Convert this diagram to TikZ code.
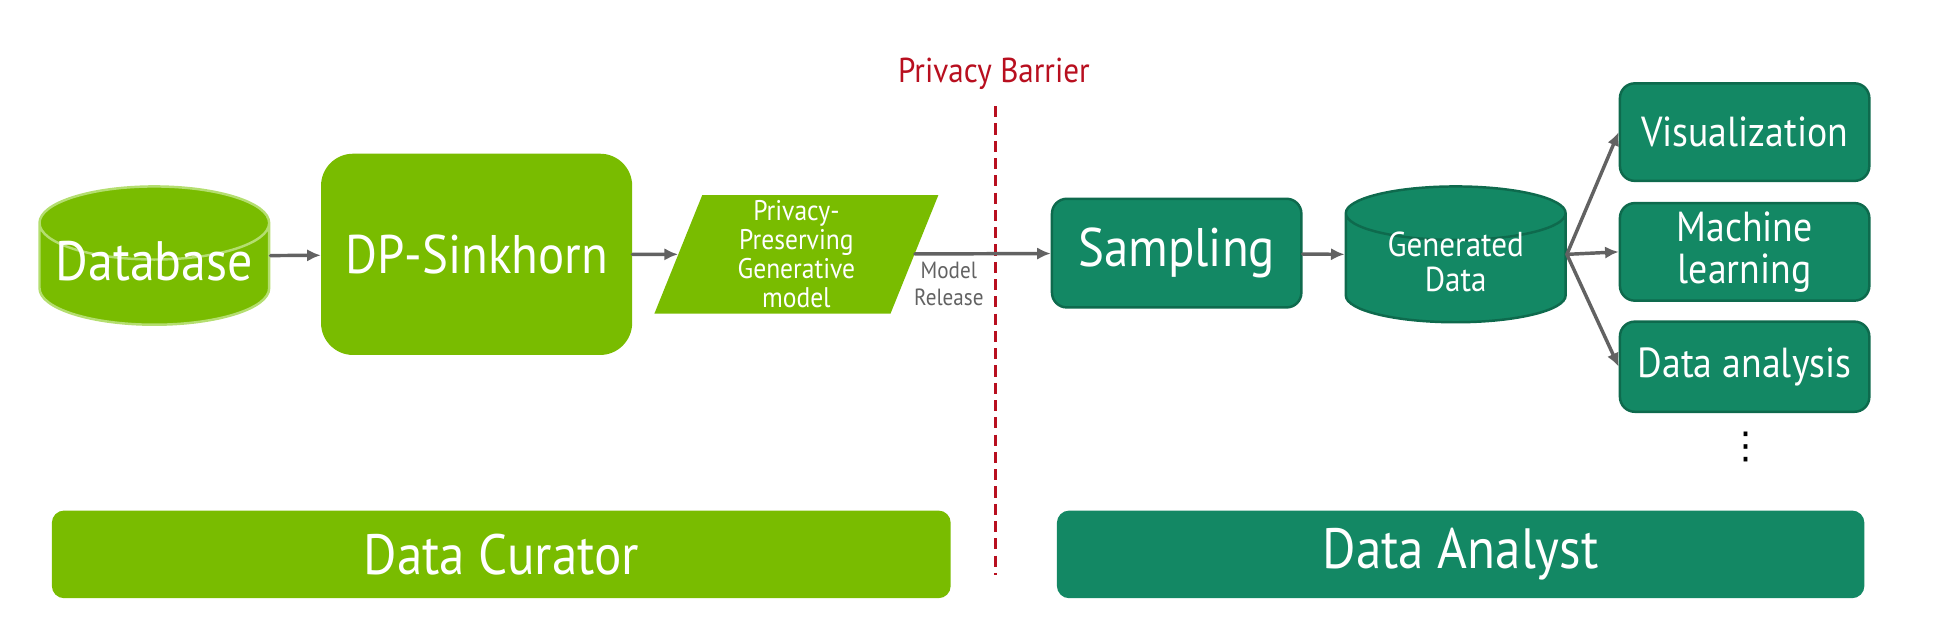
\documentclass[tikz,border=0pt]{standalone}
\usepackage{fontspec}
\setmainfont{PT Sans}[FakeStretch=0.9]
\newfontfamily\dotsfont{DejaVu Sans}
\usetikzlibrary{shapes.geometric,arrows.meta}
\definecolor{nvgreen}{HTML}{79BC00}
\definecolor{nvpale}{HTML}{B4DE70}
\definecolor{nvteal}{HTML}{138864}
\definecolor{tealdark}{HTML}{0E6A4D}
\definecolor{barrierred}{HTML}{B80F1F}
\definecolor{arrowgray}{HTML}{626262}

\begin{document}
\begin{tikzpicture}[x=1pt,y=-1pt,line cap=round,
    curator/.style={fill=nvgreen, text=white, inner sep=0pt},
    analyst/.style={fill=nvteal, draw=tealdark, line width=2pt, text=white, inner sep=0pt, rounded corners=12pt},
    conn/.style={draw=arrowgray, line width=2.8pt, -{Latex[length=11pt,width=10pt]}}]
    \useasboundingbox (0,0) rectangle (1568,513);

    % data curator side
    \node[cylinder, shape border rotate=90, aspect=0.37, curator, draw=nvpale, line width=2pt,
          minimum width=186pt, minimum height=112pt, anchor=shape center,
          font=\fontsize{45}{48}\selectfont] (database) at (125,207) {\raisebox{-5pt}[0pt][0pt]{Database}};
    \node[curator, rounded corners=26pt, minimum width=252pt, minimum height=163pt,
          font=\fontsize{44}{48}\selectfont] (sinkhorn) at (386,206) {DP-Sinkhorn};
    \node[trapezium, trapezium left angle=66, trapezium right angle=114, trapezium stretches body, curator,
          minimum width=230pt, minimum height=96pt, align=center,
          font=\fontsize{23}{23.5}\selectfont] (genmodel) at (645,206) {Privacy-\\Preserving\\Generative\\model};

    % privacy barrier
    \node[text=barrierred, font=\fontsize{28}{30}\selectfont] (barrier) at (805,60) {Privacy Barrier};
    \coordinate (bartop) at (806,86);
    \coordinate (barbot) at (806,466);
    \draw[barrierred, line width=2.5pt, line cap=butt, dash pattern=on 9pt off 5pt] (bartop) -- (barbot);

    % data analyst side
    \node[analyst, minimum width=202pt, minimum height=88pt, font=\fontsize{44}{48}\selectfont] (sampling) at (953,205) {Sampling};
    \node[cylinder, shape border rotate=90, aspect=0.37, fill=nvteal, draw=tealdark, line width=2pt, text=white,
          minimum width=178pt, minimum height=110pt, anchor=shape center,
          font=\fontsize{28}{29}\selectfont] (gendata) at (1179,206)
          {\raisebox{-2pt}[0pt][0pt]{\begin{tabular}{@{}c@{}}Generated\\Data\end{tabular}}};

    \node[analyst, minimum width=202pt, minimum height=79pt, font=\fontsize{34}{34}\selectfont] (vis) at (1413,107) {Visualization};
    \node[analyst, minimum width=202pt, minimum height=79pt, align=center, font=\fontsize{34}{34}\selectfont] (ml) at (1413,204) {Machine\\learning};
    \node[analyst, minimum width=202pt, minimum height=73pt, font=\fontsize{34}{34}\selectfont] (analysis) at (1413,297) {Data analysis};
    \node[font=\dotsfont\fontsize{30}{30}\selectfont] (more) at (1414,362) {⋮};

    % roles
    \node[curator, rounded corners=10pt, minimum width=728pt, minimum height=71pt,
          font=\fontsize{46}{48}\selectfont] (curatorbar) at (406,449) {Data Curator};
    \node[fill=nvteal, text=white, rounded corners=10pt, minimum width=654pt, minimum height=71pt,
          font=\fontsize{46}{48}\selectfont] (analystbar) at (1183,449) {Data Analyst};

    % flow
    \draw[conn] (database.shape center -| database.east) -- (sinkhorn);
    \draw[conn] (sinkhorn) -- (genmodel);
    \draw[conn] (genmodel) -- node[pos=0.25, below, text=arrowgray, align=center, inner sep=5pt,
          font=\fontsize{19}{22}\selectfont] (release) {Model\\Release} (sampling);
    \draw[conn] (sampling) -- (gendata.shape center -| gendata.west);
    \foreach \task in {vis, ml, analysis}
        \draw[conn] (gendata.shape center -| gendata.east) -- (\task.west);
\end{tikzpicture}
\end{document}
